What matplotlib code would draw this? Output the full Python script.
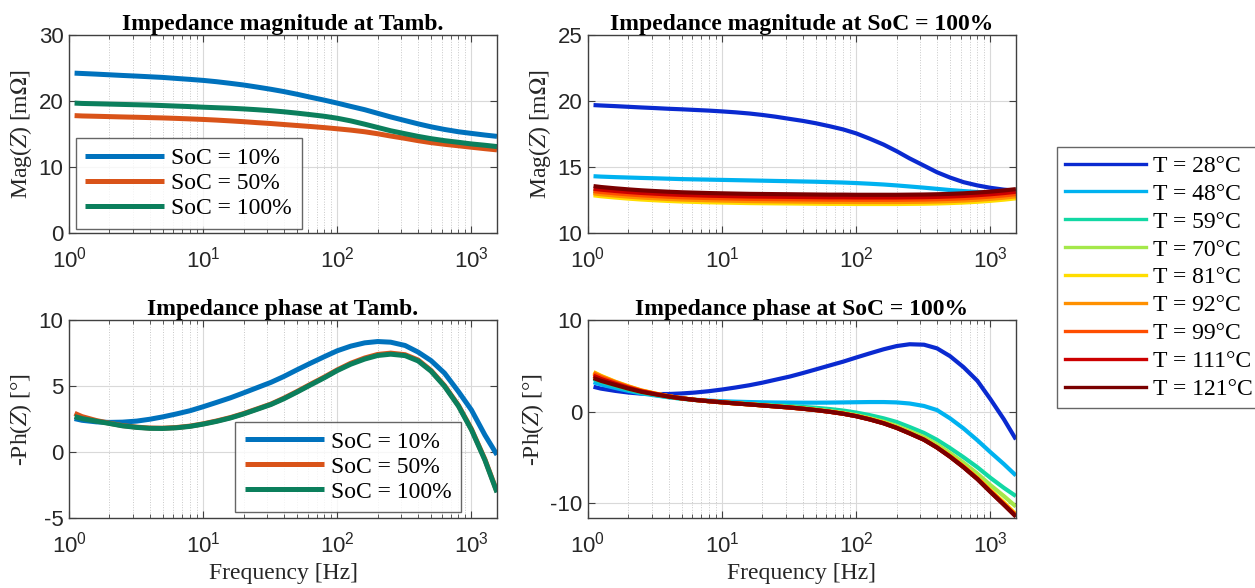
import matplotlib
matplotlib.use("Agg")
import matplotlib.pyplot as plt
from matplotlib.ticker import LogLocator, NullFormatter, FixedLocator

# ---------------- data ----------------
freq = [1.1, 1.25, 1.6, 2, 2.5, 3.2, 4, 5, 6.3, 8, 10, 12.6, 16, 20, 25, 32, 40, 50, 63, 80,
        100, 126, 160, 200, 250, 320, 400, 500, 630, 800, 1000, 1260, 1550]

soc_labels = ["SoC = 10%", "SoC = 50%", "SoC = 100%"]
soc_colors = ["#0072BD", "#D95319", "#0B7F5C"]

mag_tamb_10 = [24.25, 24.2, 24.1, 24.0, 23.9, 23.8, 23.7, 23.6, 23.45, 23.3, 23.15, 22.95, 22.7, 22.45, 22.15, 21.8,
               21.45, 21.05, 20.6, 20.15, 19.7, 19.2, 18.7, 18.15, 17.6, 17.05, 16.55, 16.1, 15.7, 15.35, 15.1, 14.85, 14.65]
mag_tamb_50 = [17.8, 17.75, 17.7, 17.65, 17.6, 17.55, 17.5, 17.45, 17.38, 17.3, 17.22, 17.12, 17.0, 16.88, 16.74, 16.6,
               16.45, 16.3, 16.15, 15.98, 15.8, 15.6, 15.35, 15.05, 14.7, 14.35, 14.0, 13.7, 13.45, 13.22, 13.0, 12.78, 12.6]
mag_tamb_100 = [19.7, 19.65, 19.6, 19.55, 19.5, 19.45, 19.4, 19.33, 19.25, 19.17, 19.08, 19.0, 18.92, 18.82, 18.7, 18.55,
                18.38, 18.18, 17.95, 17.7, 17.4, 17.0, 16.5, 16.0, 15.5, 15.05, 14.65, 14.3, 14.0, 13.75, 13.5, 13.3, 13.1]

ph_tamb_10 = [2.55, 2.42, 2.3, 2.26, 2.28, 2.36, 2.5, 2.68, 2.9, 3.15, 3.45, 3.78, 4.13, 4.5, 4.88, 5.3,
              5.75, 6.25, 6.75, 7.25, 7.7, 8.05, 8.3, 8.4, 8.35, 8.1, 7.6, 6.95, 6.0, 4.6, 3.2, 1.3, -0.2]
ph_tamb_50 = [2.95, 2.7, 2.4, 2.2, 2.02, 1.9, 1.83, 1.82, 1.87, 1.98, 2.15, 2.37, 2.63, 2.93, 3.27, 3.65,
              4.1, 4.6, 5.15, 5.7, 6.25, 6.75, 7.15, 7.42, 7.52, 7.4, 7.0, 6.2, 5.05, 3.55, 1.75, -0.55, -3.0]
ph_tamb_100 = [2.7, 2.55, 2.35, 2.18, 2.0, 1.88, 1.81, 1.8, 1.85, 1.96, 2.13, 2.34, 2.6, 2.9, 3.24, 3.62,
               4.06, 4.56, 5.1, 5.65, 6.2, 6.68, 7.07, 7.34, 7.44, 7.33, 6.93, 6.15, 5.0, 3.5, 1.7, -0.6, -3.05]

temp_labels = ["T = 28°C", "T = 48°C", "T = 59°C", "T = 70°C", "T = 81°C",
               "T = 92°C", "T = 99°C", "T = 111°C", "T = 121°C"]
temp_colors = ["#0A2AD0", "#00B2F0", "#12D8A4", "#A4E84A", "#FFDD00",
               "#FF9000", "#FF4E00", "#CC0000", "#7A0000"]

mag_t28 = [19.7, 19.67, 19.62, 19.57, 19.52, 19.47, 19.42, 19.38, 19.33, 19.28, 19.22, 19.15, 19.06, 18.95, 18.82, 18.65,
           18.5, 18.32, 18.1, 17.85, 17.55, 17.15, 16.7, 16.2, 15.65, 15.1, 14.6, 14.2, 13.85, 13.6, 13.42, 13.28, 13.2]
mag_t48 = [14.3, 14.27, 14.23, 14.2, 14.17, 14.14, 14.11, 14.08, 14.06, 14.04, 14.02, 14.0, 13.98, 13.96, 13.94, 13.92,
           13.9, 13.88, 13.85, 13.82, 13.78, 13.73, 13.67, 13.6, 13.52, 13.43, 13.34, 13.25, 13.17, 13.1, 13.05, 13.02, 13.0]
mag_t59 = [13.15, 13.08, 12.98, 12.9, 12.83, 12.77, 12.72, 12.68, 12.65, 12.62, 12.6, 12.58, 12.56, 12.55, 12.54, 12.53,
           12.52, 12.51, 12.5, 12.5, 12.49, 12.49, 12.49, 12.49, 12.5, 12.51, 12.53, 12.56, 12.6, 12.66, 12.73, 12.82, 12.92]
mag_t70 = [13.05, 12.98, 12.88, 12.8, 12.73, 12.67, 12.62, 12.58, 12.55, 12.52, 12.5, 12.48, 12.46, 12.45, 12.44, 12.43,
           12.42, 12.41, 12.4, 12.4, 12.39, 12.39, 12.39, 12.39, 12.4, 12.41, 12.43, 12.46, 12.5, 12.56, 12.63, 12.72, 12.82]
mag_t81 = [12.85, 12.78, 12.68, 12.6, 12.53, 12.47, 12.42, 12.38, 12.35, 12.32, 12.3, 12.28, 12.26, 12.25, 12.24, 12.23,
           12.22, 12.21, 12.2, 12.2, 12.19, 12.19, 12.19, 12.19, 12.2, 12.21, 12.23, 12.26, 12.3, 12.36, 12.43, 12.52, 12.62]
mag_t92 = [13.0, 12.93, 12.83, 12.75, 12.68, 12.62, 12.57, 12.53, 12.5, 12.47, 12.45, 12.43, 12.41, 12.4, 12.39, 12.38,
           12.37, 12.36, 12.35, 12.35, 12.34, 12.34, 12.34, 12.34, 12.35, 12.36, 12.38, 12.41, 12.45, 12.51, 12.58, 12.67, 12.77]
mag_t99 = [13.17, 13.1, 13.0, 12.92, 12.85, 12.79, 12.74, 12.7, 12.67, 12.64, 12.62, 12.6, 12.58, 12.57, 12.56, 12.55,
           12.54, 12.53, 12.52, 12.52, 12.51, 12.51, 12.51, 12.51, 12.52, 12.53, 12.55, 12.58, 12.62, 12.68, 12.75, 12.84, 12.94]
mag_t111 = [13.35, 13.28, 13.18, 13.1, 13.03, 12.97, 12.92, 12.88, 12.85, 12.82, 12.8, 12.78, 12.76, 12.75, 12.74, 12.73,
            12.72, 12.71, 12.7, 12.7, 12.69, 12.69, 12.69, 12.69, 12.7, 12.71, 12.73, 12.76, 12.8, 12.86, 12.93, 13.02, 13.12]
mag_t121 = [13.55, 13.48, 13.38, 13.3, 13.23, 13.17, 13.12, 13.08, 13.05, 13.02, 13.0, 12.98, 12.96, 12.95, 12.94, 12.93,
            12.92, 12.91, 12.9, 12.9, 12.89, 12.89, 12.89, 12.89, 12.9, 12.91, 12.93, 12.96, 13.0, 13.06, 13.13, 13.22, 13.32]

ph_t28 = [2.75, 2.55, 2.3, 2.12, 2.0, 1.95, 1.96, 2.02, 2.12, 2.27, 2.45, 2.67, 2.92, 3.2, 3.52, 3.87,
          4.25, 4.65, 5.07, 5.5, 5.95, 6.4, 6.85, 7.2, 7.4, 7.35, 6.95, 6.1, 4.9, 3.4, 1.4, -0.8, -3.0]
ph_t48 = [3.25, 3.0, 2.62, 2.3, 2.02, 1.8, 1.6, 1.45, 1.33, 1.24, 1.17, 1.12, 1.08, 1.05, 1.03, 1.02,
          1.01, 1.01, 1.02, 1.04, 1.06, 1.08, 1.08, 1.04, 0.92, 0.65, 0.2, -0.7, -1.8, -3.1, -4.4, -5.7, -6.95]
ph_t59 = [3.6, 3.3, 2.85, 2.45, 2.12, 1.85, 1.62, 1.44, 1.3, 1.18, 1.08, 0.98, 0.89, 0.8, 0.72, 0.64,
          0.55, 0.45, 0.32, 0.15, -0.07, -0.35, -0.7, -1.1, -1.65, -2.3, -3.05, -3.95, -4.95, -6.05, -7.2, -8.3, -9.2]
ph_t70 = [3.85, 3.5, 3.0, 2.58, 2.22, 1.93, 1.68, 1.48, 1.31, 1.17, 1.05, 0.94, 0.84, 0.74, 0.64, 0.53,
          0.41, 0.27, 0.1, -0.1, -0.36, -0.68, -1.07, -1.53, -2.1, -2.75, -3.55, -4.5, -5.55, -6.75, -8.0, -9.2, -10.35]
ph_t81 = [4.35, 3.95, 3.3, 2.8, 2.35, 2.0, 1.72, 1.5, 1.32, 1.17, 1.05, 0.93, 0.82, 0.71, 0.6, 0.48,
          0.36, 0.21, 0.04, -0.18, -0.44, -0.78, -1.2, -1.7, -2.3, -3.0, -3.83, -4.8, -5.93, -7.2, -8.55, -9.9, -11.2]
ph_t92 = [4.3, 3.9, 3.27, 2.78, 2.34, 1.99, 1.71, 1.49, 1.32, 1.17, 1.05, 0.93, 0.82, 0.71, 0.6, 0.48,
          0.35, 0.2, 0.03, -0.19, -0.45, -0.8, -1.22, -1.72, -2.32, -3.02, -3.86, -4.84, -5.98, -7.27, -8.65, -10.02, -11.3]
ph_t99 = [4.15, 3.78, 3.2, 2.72, 2.3, 1.97, 1.7, 1.49, 1.31, 1.17, 1.05, 0.93, 0.82, 0.71, 0.6, 0.48,
          0.35, 0.2, 0.02, -0.2, -0.46, -0.81, -1.23, -1.73, -2.33, -3.03, -3.88, -4.87, -6.01, -7.3, -8.7, -10.08, -11.35]
ph_t111 = [3.95, 3.6, 3.08, 2.64, 2.25, 1.94, 1.69, 1.48, 1.31, 1.17, 1.05, 0.93, 0.82, 0.71, 0.6, 0.48,
           0.35, 0.2, 0.02, -0.2, -0.47, -0.82, -1.24, -1.74, -2.34, -3.04, -3.89, -4.89, -6.03, -7.33, -8.72, -10.12, -11.4]
ph_t121 = [3.7, 3.4, 2.95, 2.55, 2.2, 1.92, 1.68, 1.48, 1.31, 1.17, 1.05, 0.93, 0.82, 0.71, 0.6, 0.48,
           0.35, 0.2, 0.02, -0.2, -0.47, -0.82, -1.25, -1.75, -2.35, -3.05, -3.9, -4.9, -6.05, -7.35, -8.75, -10.15, -11.45]

mag_soc = [mag_tamb_10, mag_tamb_50, mag_tamb_100]
ph_soc = [ph_tamb_10, ph_tamb_50, ph_tamb_100]
mag_temp = [mag_t28, mag_t48, mag_t59, mag_t70, mag_t81, mag_t92, mag_t99, mag_t111, mag_t121]
ph_temp = [ph_t28, ph_t48, ph_t59, ph_t70, ph_t81, ph_t92, ph_t99, ph_t111, ph_t121]

# ---------------- styling ----------------
plt.rcParams["mathtext.fontset"] = "stix"
plt.rcParams["axes.unicode_minus"] = False
SERIF = "Liberation Serif"
SANS = "Liberation Sans"

fig = plt.figure(figsize=(12.55, 5.88), dpi=100)

W = 0.341
H = 0.336
ax_tl = fig.add_axes([0.055, 0.604, W, H])
ax_tr = fig.add_axes([0.4685, 0.604, W, H])
ax_bl = fig.add_axes([0.055, 0.119, W, H])
ax_br = fig.add_axes([0.4685, 0.119, W, H])


def style(ax, ylim, yticks, title, ylabel, xlabel=None):
    ax.set_xscale("log")
    ax.set_xlim(1, 1550)
    ax.set_ylim(*ylim)
    ax.yaxis.set_major_locator(FixedLocator(yticks))
    ax.xaxis.set_major_locator(LogLocator(base=10, numticks=10))
    ax.xaxis.set_minor_locator(LogLocator(base=10, subs=range(2, 10), numticks=20))
    ax.xaxis.set_minor_formatter(NullFormatter())
    ax.grid(True, which="major", color="#d9d9d9", linewidth=0.8, linestyle="-")
    ax.grid(True, which="minor", axis="x", color="#c8c8c8", linewidth=0.7, linestyle=":")
    ax.set_axisbelow(True)
    ax.tick_params(which="both", direction="in", top=True, right=True, color="#404040")
    ax.tick_params(which="major", length=5, labelsize=16)
    ax.tick_params(axis="x", which="major", pad=10)
    ax.tick_params(axis="y", which="major", pad=4)
    ax.tick_params(which="minor", length=3)
    for lab in ax.get_xticklabels() + ax.get_yticklabels():
        lab.set_fontfamily(SANS)
        lab.set_color("#262626")
    for s in ax.spines.values():
        s.set_color("#404040")
        s.set_linewidth(1.0)
    ax.set_title(title, fontfamily=SERIF, fontweight="bold", fontsize=17, pad=2)
    ax.set_ylabel(ylabel, fontfamily=SERIF, fontsize=17, color="#262626", labelpad=3)
    if xlabel:
        ax.set_xlabel(xlabel, fontfamily=SERIF, fontsize=17, color="#262626", labelpad=4)


for vals, c, lab in zip(mag_soc, soc_colors, soc_labels):
    ax_tl.plot(freq, vals, color=c, linewidth=3.6, label=lab, solid_capstyle="butt")
for vals, c, lab in zip(ph_soc, soc_colors, soc_labels):
    ax_bl.plot(freq, vals, color=c, linewidth=3.6, label=lab, solid_capstyle="butt")

for vals, c, lab in zip(mag_temp, temp_colors, temp_labels):
    ax_tr.plot(freq, vals, color=c, linewidth=3.0, label=lab, solid_capstyle="butt")
for vals, c, lab in zip(ph_temp, temp_colors, temp_labels):
    ax_br.plot(freq, vals, color=c, linewidth=3.0, label=lab, solid_capstyle="butt")

style(ax_tl, (0, 30), [0, 10, 20, 30], "Impedance magnitude at Tamb.", r"Mag($Z$) [m$\Omega$]")
style(ax_tr, (10, 25), [10, 15, 20, 25], "Impedance magnitude at SoC = 100%", r"Mag($Z$) [m$\Omega$]")
style(ax_bl, (-5, 10), [-5, 0, 5, 10], "Impedance phase at Tamb.", r"-Ph($Z$) [°]", "Frequency [Hz]")
style(ax_br, (-11.6, 10), [-10, 0, 10], "Impedance phase at SoC = 100%", r"-Ph($Z$) [°]", "Frequency [Hz]")

leg_kw = dict(prop={"family": SERIF, "size": 17}, frameon=True, fancybox=False,
              edgecolor="#404040", handlelength=3.35, handletextpad=0.3,
              labelspacing=0.15, borderpad=0.4, borderaxespad=0.0)
l1 = ax_tl.legend(loc="lower left", bbox_to_anchor=(0.016, 0.02), **leg_kw)
l1.get_frame().set_linewidth(1.0)
l2 = ax_bl.legend(loc="lower right", bbox_to_anchor=(0.916, 0.03), **leg_kw)
l2.get_frame().set_linewidth(1.0)

handles = [plt.Line2D([], [], color=c, linewidth=2.4) for c in temp_colors]
l3 = fig.legend(handles, temp_labels, loc="upper left", bbox_to_anchor=(0.8422, 0.75),
                prop={"family": SERIF, "size": 17}, frameon=True, fancybox=False,
                edgecolor="#404040", handlelength=3.4, handletextpad=0.3,
                labelspacing=0.27, borderpad=0.35, borderaxespad=0.0)
l3.get_frame().set_linewidth(1.0)

fig.savefig("out.png", dpi=100, facecolor="white")
